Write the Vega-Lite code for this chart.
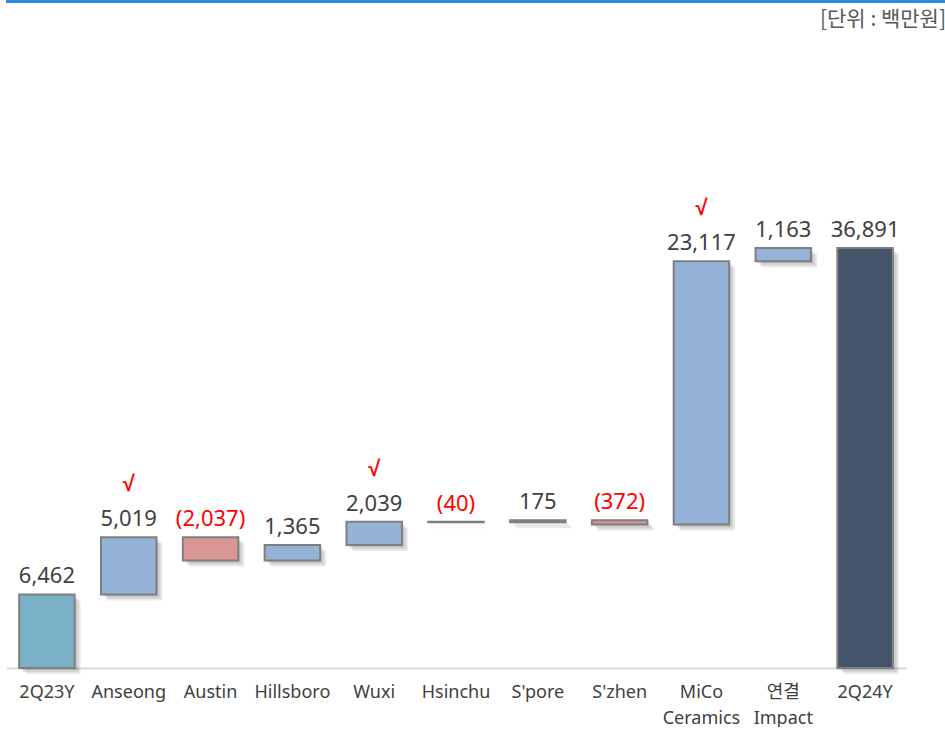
{
  "$schema": "https://vega.github.io/schema/vega-lite/v6.json",
  "padding": 0,
  "spacing": 0,
  "config": {"view": {"stroke": null}, "font": "Noto Sans, Noto Sans CJK KR"},
  "vconcat": [
    {
      "width": 945,
      "height": 42,
      "data": {"values": [{"unit": "[단위 : 백만원]"}]},
      "layer": [
        {
          "mark": {"type": "rule", "color": "#2E8BDD", "strokeWidth": 3, "yOffset": 1.5},
          "encoding": {"y": {"datum": 1, "type": "quantitative", "scale": {"domain": [0, 1]}, "axis": null}}
        },
        {
          "mark": {"type": "text", "align": "right", "baseline": "middle", "fontSize": 21, "color": "#595959", "dx": -5, "font": "Noto Sans CJK KR"},
          "encoding": {
            "text": {"field": "unit"},
            "x": {"datum": 1, "type": "quantitative", "scale": {"domain": [0, 1]}, "axis": null},
            "y": {"datum": 0.52, "type": "quantitative", "axis": null}
          }
        }
      ]
    },
    {
      "width": 900,
      "height": 626,
      "data": {
        "values": [
          {"cat": "2Q23Y", "start": 0, "end": 6462, "kind": "total", "label": "6,462"},
          {"cat": "Anseong", "start": 6462, "end": 11481, "kind": "up", "label": "5,019", "check": "√"},
          {"cat": "Austin", "start": 11481, "end": 9444, "kind": "down", "label": "(2,037)"},
          {"cat": "Hillsboro", "start": 9444, "end": 10809, "kind": "up", "label": "1,365"},
          {"cat": "Wuxi", "start": 10809, "end": 12848, "kind": "up", "label": "2,039", "check": "√"},
          {"cat": "Hsinchu", "start": 12848, "end": 12808, "kind": "down", "label": "(40)"},
          {"cat": "S'pore", "start": 12808, "end": 12983, "kind": "up", "label": "175"},
          {"cat": "S'zhen", "start": 12983, "end": 12611, "kind": "down", "label": "(372)"},
          {"cat": "MiCo|Ceramics", "start": 12611, "end": 35728, "kind": "up", "label": "23,117", "check": "√"},
          {"cat": "연결|Impact", "start": 35728, "end": 36891, "kind": "up", "label": "1,163"},
          {"cat": "2Q24Y", "start": 0, "end": 36891, "kind": "final", "label": "36,891"}
        ]
      },
      "transform": [{"calculate": "max(datum.start, datum.end)", "as": "top"}],
      "encoding": {
        "x": {
          "field": "cat",
          "type": "nominal",
          "sort": null,
          "scale": {"paddingInner": 0.322, "paddingOuter": 0.161},
          "axis": {
            "title": null,
            "labelAngle": 0,
            "labelExpr": "split(datum.label, '|')",
            "labelFontSize": 18,
            "labelColor": "#404040",
            "labelPadding": 15,
            "labelBaseline": "top",
            "labelLineHeight": 26,
            "ticks": false,
            "domainColor": "#D9D9D9",
            "domainWidth": 2
          }
        },
        "y": {
          "field": "start",
          "type": "quantitative",
          "scale": {"domain": [0, 55000], "nice": false},
          "axis": {"title": null, "labels": false, "ticks": false, "domain": false, "grid": false, "minExtent": 6, "maxExtent": 6}
        },
        "y2": {"field": "end"}
      },
      "layer": [
        {"mark": {"type": "bar", "fill": "#000000", "opacity": 0.09, "xOffset": 6, "yOffset": 6, "y2Offset": 6}},
        {"mark": {"type": "bar", "fill": "#000000", "opacity": 0.09, "xOffset": 4, "yOffset": 4, "y2Offset": 4}},
        {"mark": {"type": "bar", "fill": "#000000", "opacity": 0.09, "xOffset": 2, "yOffset": 2, "y2Offset": 2}},
        {
          "mark": {"type": "bar", "stroke": "#7F7F7F", "strokeWidth": 2},
          "encoding": {
            "fill": {
              "field": "kind",
              "type": "nominal",
              "scale": {"domain": ["total", "up", "down", "final"], "range": ["#7BB1C6", "#95B3D7", "#D99694", "#44546A"]},
              "legend": null
            }
          }
        },
        {
          "mark": {"type": "text", "fontSize": 22, "dy": -11, "baseline": "alphabetic"},
          "encoding": {
            "y": {"field": "top", "type": "quantitative"},
            "y2": null,
            "text": {"field": "label"},
            "color": {"condition": {"test": "datum.kind === 'down'", "value": "#FF0000"}, "value": "#404040"}
          }
        },
        {
          "transform": [{"filter": "datum.check"}],
          "mark": {"type": "text", "font": "Liberation Sans", "fontSize": 22, "fontWeight": "bold", "dy": -46, "baseline": "alphabetic", "color": "#FF0000"},
          "encoding": {
            "y": {"field": "top", "type": "quantitative"},
            "y2": null,
            "text": {"field": "check"}
          }
        }
      ]
    }
  ]
}
